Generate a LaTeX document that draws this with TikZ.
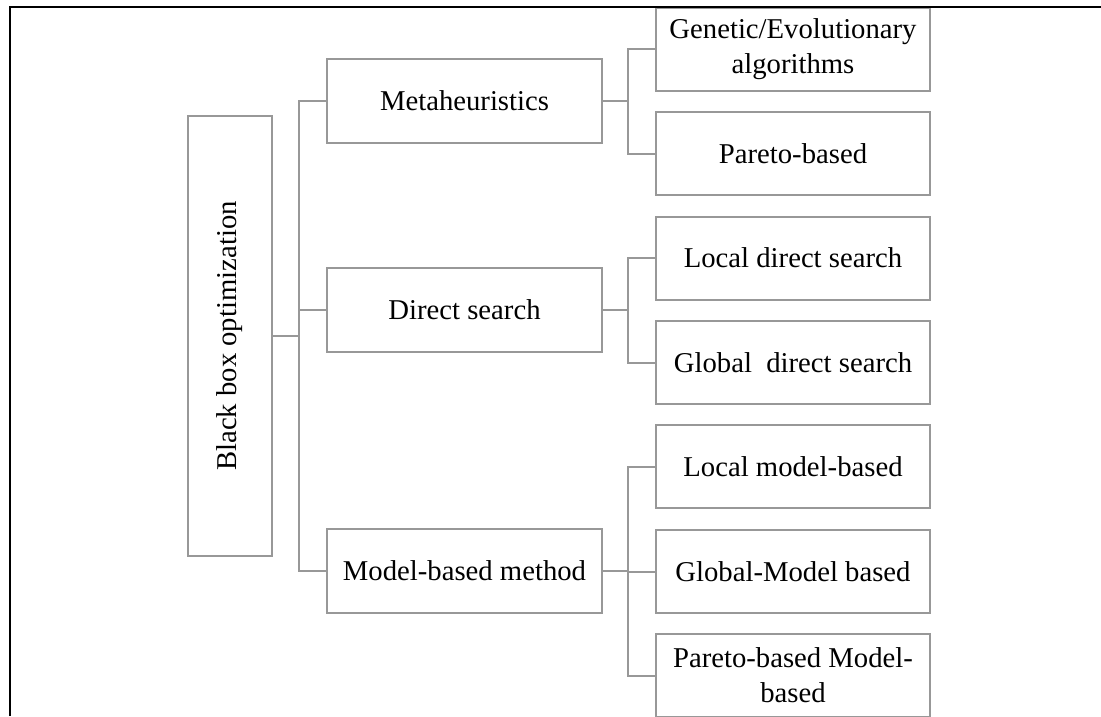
\documentclass[tikz,border=0pt]{standalone}
\usepackage{fontspec}
\setmainfont{Liberation Serif}
\definecolor{boxgray}{RGB}{152,152,152}
\begin{document}
\begin{tikzpicture}[x=1pt,y=-1pt,
  box/.style={draw=boxgray, line width=2pt, inner sep=0pt, align=center,
    font=\fontsize{28.7}{35}\selectfont},
  midbox/.style={box, minimum width=275pt, minimum height=84pt},
  leafbox/.style={box, minimum width=274pt, minimum height=83pt},
  link/.style={draw=boxgray, line width=2pt}]
  \useasboundingbox (0,0) rectangle (1101,716);

  % root
  \node[box, minimum width=84pt, minimum height=440pt] (root) at (230,336) {};
  \node[rotate=90, font=\fontsize{28.7}{35}\selectfont] (roottext) at (root.center) {Black box optimization};

  % second level
  \node[midbox] (meta)   at (464.5,101)   {Metaheuristics};
  \node[midbox] (direct) at (464.5,309.5) {Direct search};
  \node[midbox] (model)  at (464.5,571)   {Model-based method};

  % leaves
  \node[leafbox] (gen)     at (793,49)    {Genetic/Evolutionary\\algorithms};
  \node[leafbox] (pareto)  at (793,153.5) {Pareto-based};
  \node[leafbox] (ldirect) at (793,258)   {Local direct search};
  \node[leafbox] (gdirect) at (793,362.5) {Global\ \ direct search};
  \node[leafbox] (lmodel)  at (793,466.5) {Local model-based};
  \node[leafbox] (gmodel)  at (793,571.5) {Global-Model based};
  \node[leafbox] (pmodel)  at (793,675.5) {Pareto-based Model-\\based};

  % bus lines
  \coordinate (t) at (299,0);
  \coordinate (b) at (628,0);

  \draw[link] (root.east) -- (root.east -| t);
  \draw[link] (meta.west) -- (meta.west -| t) -- (model.west -| t) -- (model.west);
  \draw[link] (direct.west) -- (direct.west -| t);

  \draw[link] (meta.east) -- (meta.east -| b);
  \draw[link] (gen.west) -- (gen.west -| b) -- (pareto.west -| b) -- (pareto.west);

  \draw[link] (direct.east) -- (direct.east -| b);
  \draw[link] (ldirect.west) -- (ldirect.west -| b) -- (gdirect.west -| b) -- (gdirect.west);

  \draw[link] (model.east) -- (model.east -| b);
  \draw[link] (lmodel.west) -- (lmodel.west -| b) -- (pmodel.west -| b) -- (pmodel.west);
  \draw[link] (gmodel.west) -- (gmodel.west -| b);

  % cell frame
  \coordinate (fl) at (10,716);
  \coordinate (fc) at (10,7);
  \coordinate (fr) at (1101,7);
  \draw[black, line width=2pt] (fl) -- (fc) -- (fr);
\end{tikzpicture}
\end{document}
